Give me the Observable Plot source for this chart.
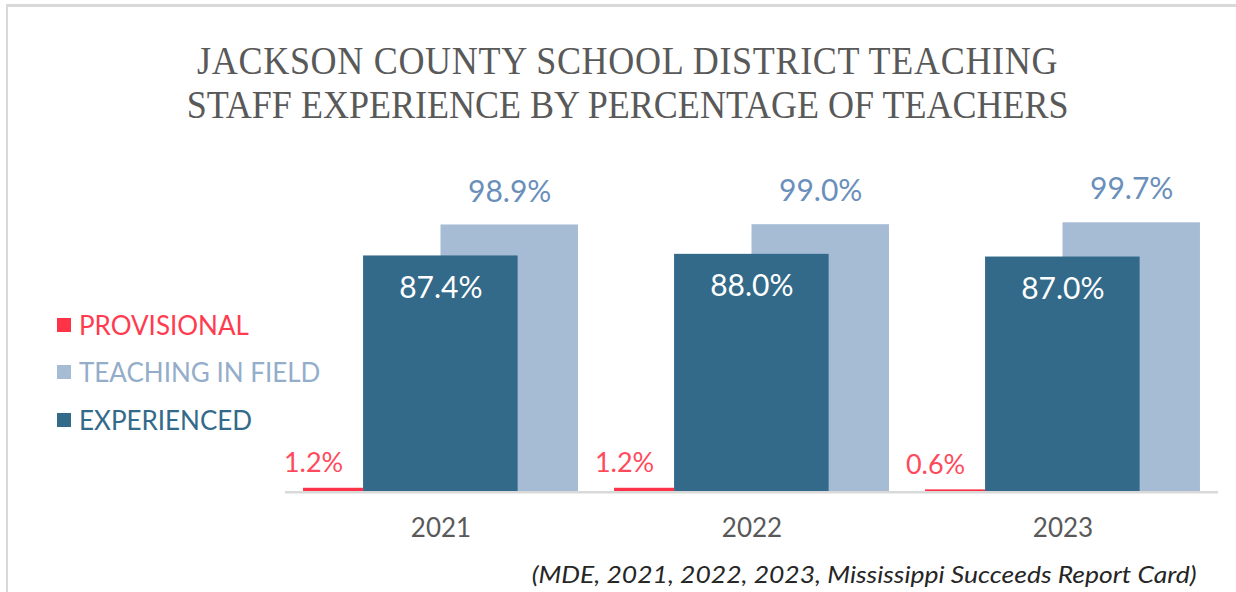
<!DOCTYPE html>
<html><head><meta charset="utf-8">
<script src="https://cdn.jsdelivr.net/npm/d3@7"></script>
<script src="https://cdn.jsdelivr.net/npm/@observablehq/plot@0.6"></script>
<style>
body{margin:0;background:#fff;}
#wrap{position:relative;width:1236px;height:592px;overflow:hidden;background:#fff;}
#frame{position:absolute;left:6px;top:4px;right:-10px;bottom:-10px;border-top:3px solid #d9d9d9;border-left:2.5px solid #d9d9d9;}
#title{position:absolute;left:10px;top:38.5px;width:1236px;text-align:center;font-family:"Liberation Serif",serif;color:#595959;font-size:40px;line-height:44.5px;}
#title > span{display:inline-block;white-space:nowrap;transform-origin:50% 50%;}
#legend{position:absolute;left:57px;top:301px;font-family:Lato,sans-serif;font-size:26px;}
#legend .row{height:47.5px;display:flex;align-items:center;white-space:nowrap;}
#legend .sw{display:inline-block;width:14px;height:14px;margin-right:8px;}
#chart{position:absolute;left:0;top:150px;}
#caption{position:absolute;right:39px;top:559px;font-family:Lato,sans-serif;font-style:italic;font-size:24px;color:#262626;white-space:nowrap;transform-origin:100% 50%;}
</style></head>
<body>
<div id="wrap">
  <div id="frame"></div>
  <div id="title"></div>
  <div id="legend"></div>
  <div id="chart"></div>
  <div id="caption"></div>
</div>
<script>
// ---- data ----
const years = ["2021", "2022", "2023"];
const provisional = [1.2, 1.2, 0.6];
const teachingInField = [98.9, 99.0, 99.7];
const experienced = [87.4, 88.0, 87.0];
const seriesNames = ["PROVISIONAL", "TEACHING IN FIELD", "EXPERIENCED"];
const titleLines = ["JACKSON COUNTY SCHOOL DISTRICT TEACHING", "STAFF EXPERIENCE BY PERCENTAGE OF TEACHERS"];
const captionText = "(MDE,  2021, 2022, 2023, Mississippi Succeeds Report Card)";

// ---- styles / layout ----
const colors = {"PROVISIONAL": "#ff3347", "TEACHING IN FIELD": "#a6bcd4", "EXPERIENCED": "#336a8a"};
const legendText = {"PROVISIONAL": "#ff3b50", "TEACHING IN FIELD": "#93adca", "EXPERIENCED": "#336a8a"};
// slot within each year band (fraction of band)
const slots = {"PROVISIONAL": [0.058, 0.251], "EXPERIENCED": [0.251, 0.748], "TEACHING IN FIELD": [0.5, 0.942]};
const valuesBySeries = {"PROVISIONAL": provisional, "TEACHING IN FIELD": teachingInField, "EXPERIENCED": experienced};

const rows = s => years.map((y, i) => ({year: y, series: s, value: valuesBySeries[s][i],
  x1: slots[s][0], x2: slots[s][1], xm: (slots[s][0] + slots[s][1]) / 2}));
const field = rows("TEACHING IN FIELD"), exper = rows("EXPERIENCED"), prov = rows("PROVISIONAL");
const fmt = d => d.value.toFixed(1) + "%";

const numFont = "Lato, sans-serif";
const chart = Plot.plot({
  width: 1236, height: 410,
  marginLeft: 284.5, marginRight: 18.5, marginTop: 71.5, marginBottom: 69,
  style: {fontFamily: numFont, fontSize: "26px", color: "#595959", background: "transparent"},
  fx: {domain: years, padding: 0, label: null, axis: null},
  x: {domain: [0, 1], axis: null},
  y: {domain: [0, 100], axis: null},
  marks: [
    Plot.axisFx({anchor: "bottom", tickSize: 0, tickPadding: 27, label: null, fill: "#595959"}),
    Plot.rect(field, {fx: "year", x1: "x1", x2: "x2", y1: 0, y2: "value", fill: colors["TEACHING IN FIELD"]}),
    Plot.rect(exper, {fx: "year", x1: "x1", x2: "x2", y1: 0, y2: "value", fill: colors["EXPERIENCED"]}),
    Plot.rect(prov, {fx: "year", x1: "x1", x2: "x2", y1: 0, y2: "value", fill: colors["PROVISIONAL"]}),
    Plot.ruleY([0], {stroke: "#d9d9d9", strokeWidth: 2.5, dy: 0.8}),
    Plot.text(field, {fx: "year", x: "xm", y: "value", text: fmt, dy: -33, fill: "#6a8fbb", fontSize: 30, lineAnchor: "middle"}),
    Plot.text(exper, {fx: "year", x: "xm", y: "value", text: fmt, dy: 32, fill: "#ffffff", fontSize: 30, lineAnchor: "middle"}),
    Plot.text(prov, {fx: "year", x: "xm", y: "value", text: fmt, dx: -20, dy: -25, fill: "#ff4a5c", fontSize: 27, lineAnchor: "middle"})
  ]
});
document.getElementById("chart").append(chart);

// title: one text block, two lines
const t = document.getElementById("title");
const ts = document.createElement("span");
titleLines.forEach((l, i) => {
  const ls = document.createElement("span");
  ls.textContent = l;
  if (i === 0) ls.style.letterSpacing = "0.75px";
  ts.append(ls);
  if (i < titleLines.length - 1) ts.append(document.createElement("br"));
});
t.append(ts);
ts.style.transform = `scaleX(${882 / ts.getBoundingClientRect().width})`;

// legend
const lg = document.getElementById("legend");
seriesNames.forEach(n => {
  const r = document.createElement("div"); r.className = "row";
  const sw = document.createElement("span"); sw.className = "sw"; sw.style.background = colors[n];
  const tx = document.createElement("span"); tx.textContent = n; tx.style.color = legendText[n];
  r.append(sw, tx); lg.append(r);
});
const cap = document.getElementById("caption");
cap.textContent = captionText;
cap.style.transform = `scaleX(${665 / cap.getBoundingClientRect().width})`;
</script>
</body></html>
